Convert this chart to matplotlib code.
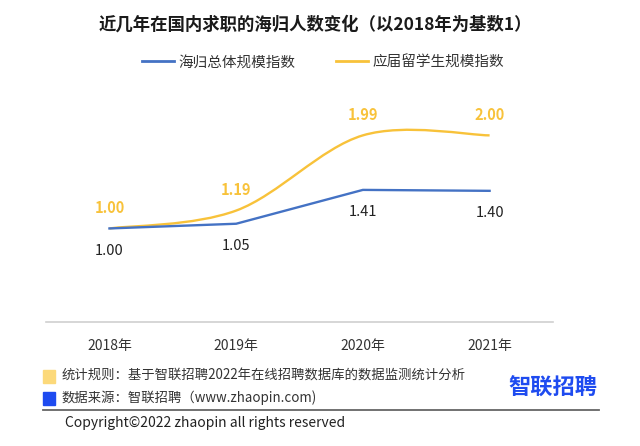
import matplotlib.pyplot as plt
from matplotlib.path import Path
from matplotlib.patches import PathPatch, Rectangle
from matplotlib.lines import Line2D

plt.rcParams['font.family'] = ['Noto Sans CJK SC', 'DejaVu Sans']

years = ['2018年', '2019年', '2020年', '2021年']
total_index = [1.00, 1.05, 1.41, 1.40]
grad_index = [1.00, 1.19, 1.99, 1.99]
grad_labels = ['1.00', '1.19', '1.99', '2.00']
total_labels = ['1.00', '1.05', '1.41', '1.40']

title = '近几年在国内求职的海归人数变化（以2018年为基数1）'
series_names = ['海归总体规模指数', '应届留学生规模指数']
note_rule = '统计规则：基于智联招聘2022年在线招聘数据库的数据监测统计分析'
note_source = '数据来源：智联招聘（www.zhaopin.com)'
copyright_text = 'Copyright©2022 zhaopin all rights reserved'

BLUE = '#4472C4'
YELLOW = '#F8C23A'


def smooth_path(xs, ys):
    # bezier segments like a spreadsheet "smoothed line"
    pts = list(zip(xs, ys))
    verts = [pts[0]]
    codes = [Path.MOVETO]
    n = len(pts)
    for i in range(n - 1):
        p0 = pts[max(i - 1, 0)]
        p1 = pts[i]
        p2 = pts[i + 1]
        p3 = pts[min(i + 2, n - 1)]
        c1 = (p1[0] + (p2[0] - p0[0]) / 6, p1[1] + (p2[1] - p0[1]) / 6)
        c2 = (p2[0] - (p3[0] - p1[0]) / 6, p2[1] - (p3[1] - p1[1]) / 6)
        verts += [c1, c2, p2]
        codes += [Path.CURVE4] * 3
    return Path(verts, codes)


fig = plt.figure(figsize=(6.4, 4.46), dpi=100)
ax = fig.add_axes([0.072, 0.277, 0.792, 0.527])

x = list(range(len(years)))
ax.plot(x, total_index, color=BLUE, lw=1.7, solid_joinstyle='miter')
ax.add_patch(PathPatch(smooth_path(x, grad_index), facecolor='none',
                       edgecolor=YELLOW, lw=1.7))

for xi, yi, lab in zip(x, grad_index, grad_labels):
    ax.annotate(lab, (xi, yi), xytext=(0, 15), textcoords='offset points',
                ha='center', va='center', color=YELLOW, fontsize=10.5,
                fontweight='bold')
for xi, yi, lab in zip(x, total_index, total_labels):
    ax.annotate(lab, (xi, yi), xytext=(0, -16), textcoords='offset points',
                ha='center', va='center', color='#222222', fontsize=10.5)

ax.set_xlim(-0.5, 3.5)
ax.set_ylim(0, 2.5)
ax.set_xticks(x)
ax.set_xticklabels(years, fontsize=10, color='#333333')
ax.tick_params(axis='x', length=0, pad=12)
ax.set_yticks([])
for s in ['top', 'left', 'right']:
    ax.spines[s].set_visible(False)
ax.spines['bottom'].set_color('#d0d0d0')
ax.spines['bottom'].set_linewidth(1.2)

fig.text(0.492, 0.946, title, ha='center', va='center', fontsize=12.5,
         fontweight='bold', color='#1a1a1a')

handles = [Line2D([], [], color=BLUE, lw=2), Line2D([], [], color=YELLOW, lw=2)]
fig.legend(handles, series_names, loc='center', bbox_to_anchor=(0.505, 0.86),
           ncol=2, frameon=False, fontsize=10.5, handlelength=2.2,
           handletextpad=0.3, columnspacing=2.8, labelcolor='#333333')

# footer
fig.patches.append(Rectangle((43 / 640, 1 - 383 / 446), 12 / 640, 13 / 446,
                             transform=fig.transFigure, color='#FCD97A'))
fig.patches.append(Rectangle((43 / 640, 1 - 405 / 446), 12 / 640, 13 / 446,
                             transform=fig.transFigure, color='#1E4BF0'))
fig.text(62 / 640, 1 - 376 / 446, note_rule, ha='left', va='center',
         fontsize=9.6, color='#333333')
fig.text(62 / 640, 1 - 398 / 446, note_source, ha='left', va='center',
         fontsize=9.6, color='#333333')
fig.text(553 / 640, 1 - 388 / 446, '智联招聘', ha='center', va='center',
         fontsize=16, fontweight='bold', color='#1E4BF0')
fig.add_artist(Line2D([43 / 640, 599 / 640], [1 - 410 / 446, 1 - 410 / 446],
                      color='#666666', lw=1.3, transform=fig.transFigure))
fig.text(65 / 640, 1 - 423 / 446, copyright_text, ha='left', va='center',
         fontsize=10, color='#222222')

fig.savefig('out.png', dpi=100)
